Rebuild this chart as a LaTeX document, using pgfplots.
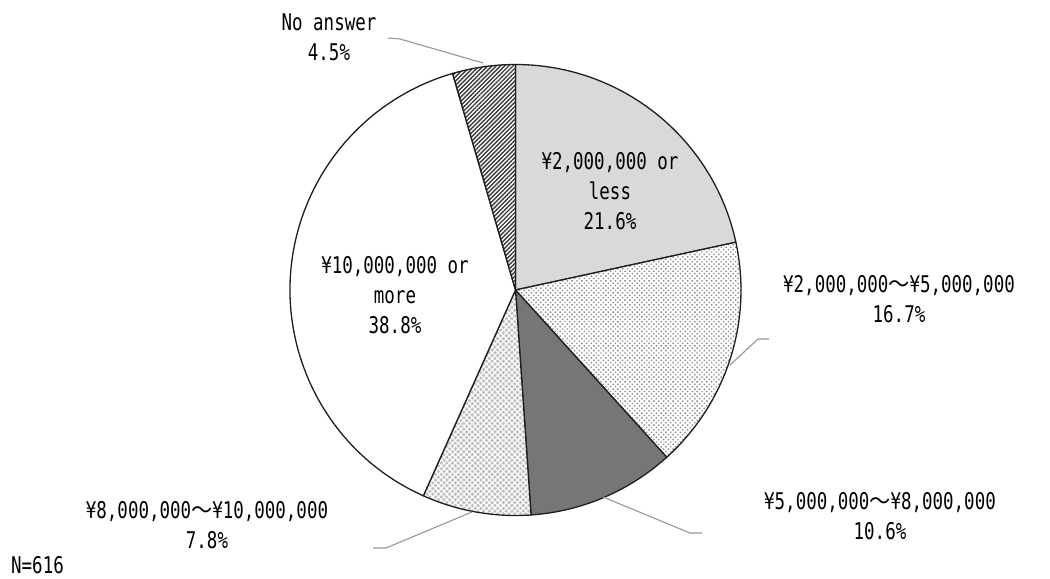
\documentclass[border=0pt]{standalone}
\usepackage{pgfplots}
\pgfplotsset{compat=1.18}
\usepackage{pgfplotstable}
\usetikzlibrary{patterns.meta}
\usepackage{fontspec}
\setmainfont[FakeStretch=0.76]{DejaVu Sans Mono}
\newfontfamily\cjk[FakeStretch=0.92]{Noto Sans CJK JP}
\newcommand\wave{{\cjk ～}}
\newcommand\lbl{\fontsize{23bp}{30bp}\selectfont}

\definecolor{sliceA}{RGB}{217,217,217}
\definecolor{sliceC}{RGB}{118,118,118}
\definecolor{hatchbg}{RGB}{192,192,192}
\definecolor{leader}{RGB}{150,150,150}
\definecolor{edge}{RGB}{30,30,30}

\tikzset{
  s1/.style={fill=sliceA},
  s2/.style={preaction={fill=white}, pattern={Dots[angle=45, distance=3.4bp, radius=1bp]}, pattern color=gray!90},
  s3/.style={fill=sliceC},
  s4/.style={preaction={fill=hatchbg}, pattern={Hatch[angle=45, distance=4bp, line width=1.1bp]}, pattern color=white},
  s5/.style={fill=white},
  s6/.style={preaction={fill=white}, pattern={Lines[angle=45, distance=3bp, line width=1.4bp]}, pattern color=gray!45!black},
}

% share of respondents (%), clockwise from 12 o'clock
\pgfplotstableread{
pct  style
21.6 s1
16.7 s2
10.6 s3
7.8  s4
38.8 s5
4.5  s6
}\piedata

\begin{document}
\begin{tikzpicture}
\begin{axis}[
    x=1bp, y=1bp,
    xmin=0, xmax=1050, ymin=0, ymax=579,
    hide axis, clip=false,
    at={(0,0)}, anchor=south west,
]
  \gdef\cum{90}
  \pgfplotstablegetrowsof{\piedata}
  \pgfmathtruncatemacro\lastrow{\pgfplotsretval-1}
  \foreach \r in {0,...,\lastrow}{
    \pgfplotstablegetelem{\r}{pct}\of\piedata \let\p\pgfplotsretval
    \pgfplotstablegetelem{\r}{style}\of\piedata \let\s\pgfplotsretval
    \pgfmathsetmacro\nxt{\cum-3.6*\p}
    \edef\temp{\noexpand\filldraw[\s, draw=edge, line width=1.3bp, line join=round]
      (axis cs:515.5,289) -- ([shift={(\cum:225.5bp)}]axis cs:515.5,289)
      arc[start angle=\cum, end angle=\nxt, radius=225.5bp] -- cycle;}
    \temp
    \xdef\cum{\nxt}
  }

  % leader lines
  \draw[leader, line width=1.1bp] (axis cs:388,541) -- (axis cs:400,540) -- (axis cs:483,516);
  \draw[leader, line width=1.1bp] (axis cs:769,240) -- (axis cs:758,240) -- (axis cs:730,214);
  \draw[leader, line width=1.1bp] (axis cs:702,46) -- (axis cs:690,46) -- (axis cs:603,82);
  \draw[leader, line width=1.1bp] (axis cs:373,31) -- (axis cs:386,31) -- (axis cs:472,67);

  % labels
  \begin{scope}[every node/.style={align=center, font=\lbl, inner sep=0pt}]
    \node at (axis cs:329,541.5) {No answer\\4.5\%};
    \node at (axis cs:610,388) {¥2,000,000 or\\less\\21.6\%};
    \node at (axis cs:899,280) {¥2,000,000\wave¥5,000,000\\16.7\%};
    \node at (axis cs:880,62.5) {¥5,000,000\wave¥8,000,000\\10.6\%};
    \node at (axis cs:207,54) {¥8,000,000\wave¥10,000,000\\7.8\%};
    \node at (axis cs:395,284) {¥10,000,000 or\\more\\38.8\%};
    \node[anchor=west] at (axis cs:11,14) {N=616};
  \end{scope}
\end{axis}
\pgfresetboundingbox
\path[use as bounding box] (0,0) rectangle (1050bp,579bp);
\end{tikzpicture}
\end{document}
